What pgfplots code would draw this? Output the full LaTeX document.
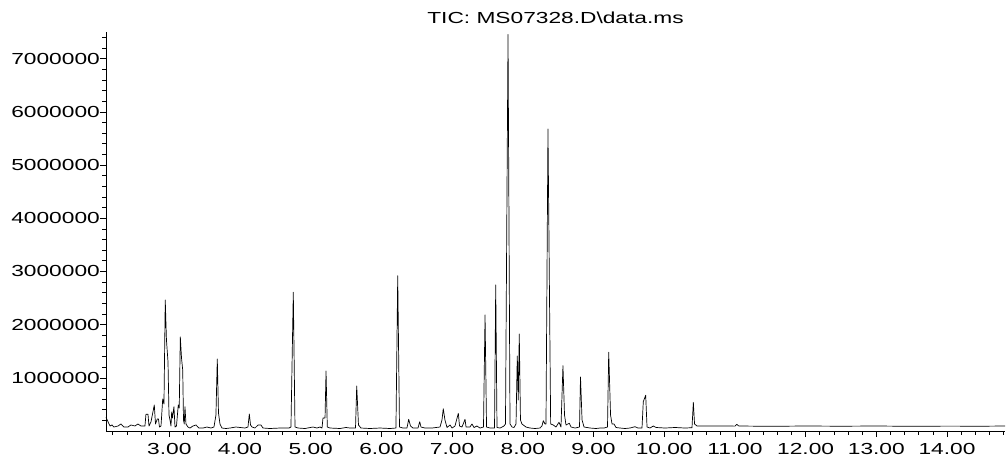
\documentclass[border=0pt]{standalone}
\usepackage{fontspec}
\setmainfont{Liberation Sans}[FakeStretch=1.42]
\usepackage{pgfplots}
\pgfplotsset{compat=1.18}
\begin{document}
\begin{tikzpicture}
\path[use as bounding box] (-106pt,-25pt) rectangle (900pt,431pt);
\begin{axis}[
  at={(0pt,0pt)}, anchor=south west,
  scale only axis, width=899pt, height=399pt,
  xmin=2.105, xmax=14.82, ymin=0, ymax=7500000,
  axis lines=left, axis line style={-, line width=0.7pt},
  tick align=outside, tick style={black, line width=0.6pt},
  major tick length=6pt, minor tick length=3.5pt,
  xtick={3,4,5,6,7,8,9,10,11,12,13,14},
  xticklabels={3.00,4.00,5.00,6.00,7.00,8.00,9.00,10.00,11.00,12.00,13.00,14.00},
  minor xtick={2.2,2.4,2.6,2.8,3.2,3.4,3.6,3.8,4.2,4.4,4.6,4.8,5.2,5.4,5.6,5.8,6.2,6.4,6.6,6.8,7.2,7.4,7.6,7.8,8.2,8.4,8.6,8.8,9.2,9.4,9.6,9.8,10.2,10.4,10.6,10.8,11.2,11.4,11.6,11.8,12.2,12.4,12.6,12.8,13.2,13.4,13.6,13.8,14.2,14.4,14.6,14.8},
  ytick={1000000,2000000,3000000,4000000,5000000,6000000,7000000},
  yticklabels={1000000,2000000,3000000,4000000,5000000,6000000,7000000},
  minor ytick={200000,400000,600000,800000,1200000,1400000,1600000,1800000,2200000,2400000,2600000,2800000,3200000,3400000,3600000,3800000,4200000,4400000,4600000,4800000,5200000,5400000,5600000,5800000,6200000,6400000,6600000,6800000,7200000,7400000},
  scaled y ticks=false,
  /pgf/number format/assume math mode=true,
  tick label style={font=\fontsize{16}{19}\selectfont, inner sep=0pt},
  yticklabel style={anchor=east},
  xticklabel style={anchor=north},
  yticklabel shift=0pt,
  xticklabel shift=6pt,
  title={TIC: MS07328.D\textbackslash data.ms},
  title style={font=\fontsize{16}{19}\selectfont, at={(0.5,1)}, anchor=base, yshift=3pt, inner sep=0pt},
  clip=false,
]
\addplot[black, line width=0.7pt, line join=round, mark=none] coordinates {
(2.105,258000) (2.133,175000) (2.162,94000) (2.190,113000) (2.218,75000) (2.275,94000)
(2.317,132000) (2.359,75000) (2.416,75000) (2.458,113000) (2.515,94000) (2.557,132000)
(2.599,94000) (2.656,94000) (2.670,314000) (2.699,314000) (2.713,94000) (2.741,169000)
(2.788,489000) (2.805,132000) (2.830,226000) (2.847,226000) (2.861,75000) (2.883,94000)
(2.907,602000) (2.925,508000) (2.943,2465000) (2.960,1712000) (2.982,1298000) (2.996,301000)
(3.010,207000) (3.024,94000) (3.034,358000) (3.045,245000) (3.066,457000) (3.081,75000)
(3.102,94000) (3.127,489000) (3.141,433000) (3.156,1769000) (3.173,1374000) (3.190,1148000)
(3.201,207000) (3.212,132000) (3.222,457000) (3.236,132000) (3.264,75000) (3.293,56000)
(3.335,94000) (3.378,113000) (3.420,56000) (3.477,56000) (3.533,75000) (3.590,56000)
(3.632,75000) (3.660,301000) (3.679,1355000) (3.696,339000) (3.717,132000) (3.745,56000)
(3.802,47000) (3.859,56000) (3.943,75000) (4.071,56000) (4.113,75000) (4.132,320000)
(4.149,113000) (4.170,75000) (4.212,56000) (4.255,113000) (4.297,113000) (4.325,56000)
(4.424,47000) (4.566,56000) (4.693,56000) (4.721,75000) (4.754,2610000) (4.778,75000)
(4.820,56000) (4.919,47000) (5.033,75000) (5.089,56000) (5.132,75000) (5.160,56000)
(5.174,245000) (5.203,245000) (5.217,1129000) (5.235,75000) (5.273,56000) (5.415,47000)
(5.499,66000) (5.556,56000) (5.634,56000) (5.651,847000) (5.676,113000) (5.711,56000)
(5.839,47000) (5.980,56000) (6.122,47000) (6.206,56000) (6.231,2917000) (6.256,75000)
(6.305,56000) (6.362,56000) (6.386,220000) (6.412,94000) (6.447,56000) (6.518,56000)
(6.542,175000) (6.560,75000) (6.617,56000) (6.716,56000) (6.829,75000) (6.857,207000)
(6.875,420000) (6.899,207000) (6.928,66000) (6.971,113000) (6.999,56000) (7.041,94000)
(7.088,333000) (7.105,94000) (7.140,75000) (7.183,220000) (7.197,75000) (7.253,75000)
(7.281,132000) (7.310,66000) (7.352,94000) (7.395,56000) (7.444,75000) (7.466,2183000)
(7.487,75000) (7.536,56000) (7.600,56000) (7.617,2747000) (7.635,66000) (7.678,56000)
(7.734,94000) (7.755,132000) (7.791,7452000) (7.819,132000) (7.848,75000) (7.876,66000)
(7.904,132000) (7.922,1411000) (7.936,583000) (7.950,1825000) (7.967,207000) (7.988,132000)
(8.045,75000) (8.102,56000) (8.172,47000) (8.243,56000) (8.271,94000) (8.290,194000)
(8.314,132000) (8.328,132000) (8.356,5677000) (8.394,132000) (8.431,113000) (8.469,75000)
(8.512,164000) (8.540,75000) (8.568,1229000) (8.590,301000) (8.611,113000) (8.658,145000)
(8.682,75000) (8.739,56000) (8.802,75000) (8.816,1016000) (8.838,207000) (8.866,75000)
(8.951,56000) (9.036,47000) (9.093,56000) (9.149,56000) (9.198,75000) (9.215,1481000)
(9.241,301000) (9.262,132000) (9.290,132000) (9.318,66000) (9.375,56000) (9.445,47000)
(9.516,56000) (9.587,81000) (9.629,56000) (9.686,56000) (9.704,551000) (9.738,672000)
(9.757,75000) (9.799,56000) (9.846,94000) (9.884,66000) (10.011,56000) (10.153,66000)
(10.294,56000) (10.393,62000) (10.412,540000) (10.429,132000) (10.464,94000) (10.577,94000)
(10.789,94000) (11.000,92000) (11.026,126000) (11.055,94000) (11.5,88000) (12.0,94000)
(12.5,90000) (13.0,94000) (13.5,88000) (14.0,92000) (14.5,90000) (14.82,94000)
};
\end{axis}
\end{tikzpicture}
\end{document}
